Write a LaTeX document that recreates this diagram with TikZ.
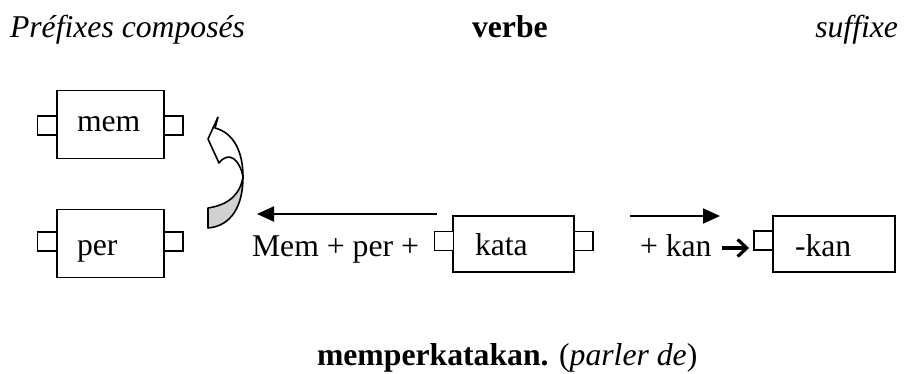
\documentclass[tikz,border=0pt]{standalone}
\usepackage{fontspec}
\setmainfont{Liberation Serif}
\usetikzlibrary{arrows.meta}
\begin{document}
\begin{tikzpicture}[x=1pt,y=-1pt,
  every node/.style={inner sep=0pt, outer sep=0pt},
  txt/.style={anchor=base west, font=\fontsize{31.7}{38}\selectfont},
  wbox/.style={draw, line width=1.8pt, fill=white, minimum width=107pt, minimum height=68pt},
  sq/.style={draw, line width=1.5pt, fill=white, minimum width=19pt, minimum height=19pt},
  arr/.style={line width=2pt, -{Triangle[length=17pt, width=15pt]}},
  chev/.style={line width=3.2pt, -{Straight Barb[length=9pt, width=17pt, line width=3.2pt]}}
]
\useasboundingbox (0,0) rectangle (905,374);

% titles
\node[txt] (t1) at (10,38) {\itshape Préfixes composés};
\node[txt] (t2) at (472,38) {\bfseries verbe};
\node[txt, anchor=base east] (t3) at (898,38) {\itshape suffixe};

% mem
\node[wbox] (mem) at (110.5,124.5) {};
\node[sq] (memL) at (47,125.5) {};
\node[sq] (memR) at (173.5,125.5) {};
\node[txt] (memT) at (77,132) {mem};

% per
\node[wbox] (per) at (110.5,243.5) {};
\node[sq] (perL) at (47,241.5) {};
\node[sq] (perR) at (173.5,241.5) {};
\node[txt] (perT) at (77,255) {per};

% kata
\node[wbox, minimum width=121pt, minimum height=56pt] (kata) at (513.5,244) {};
\node[sq] (kataL) at (444,241) {};
\node[sq] (kataR) at (583.5,241) {};
\node[txt] (kataT) at (475,255) {kata};

% -kan
\node[wbox, minimum width=122pt, minimum height=56pt] (kan) at (834,244) {};
\node[sq] (kanL) at (763.5,240.5) {};
\node[txt] (kanT) at (795,257) {-kan};

% labels
\node[txt] (mp) at (252,257) {Mem + per +};
\node[txt] (pk) at (640,257) {+ kan};
\coordinate (c1) at (722,248);
\coordinate (c2) at (749,248);
\draw[chev] (c1) -- (c2);

% straight arrows
\coordinate (la1) at (437,214);
\coordinate (la2) at (257,214);
\draw[arr] (la1) -- (la2);
\coordinate (ra1) at (630,216);
\coordinate (ra2) at (720,216);
\draw[arr] (ra1) -- (ra2);

% curved ribbon arrow
\fill[white] (218,117) -- (215,128)
  .. controls (234,133) and (243,152) .. (243,177)
  .. controls (240,160) and (229,150) .. (219,163)
  -- (208,139) -- cycle;
\fill[black!18] (208,208) .. controls (228,205) and (240,195) .. (243,177)
  .. controls (243,205) and (232,226) .. (208,228) -- cycle;
\draw[line width=1.6pt, line join=round] (218,117) -- (215,128)
  .. controls (234,133) and (243,152) .. (243,177)
  .. controls (243,205) and (232,226) .. (208,228)
  -- (208,208)
  .. controls (228,205) and (240,195) .. (243,177);
\draw[line width=1.6pt, line join=round] (243,177)
  .. controls (240,160) and (229,150) .. (219,163)
  -- (208,139) -- (218,117);

% bottom
\node[txt] (bot) at (317,365) {\bfseries memperkatakan.\mdseries{} (\textit{parler de})};
\end{tikzpicture}
\end{document}
